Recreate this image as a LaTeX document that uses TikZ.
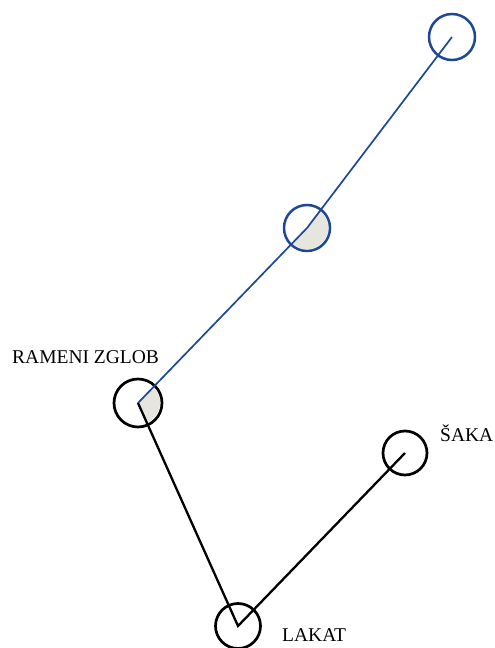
\documentclass[tikz,border=0pt]{standalone}
\usepackage{fontspec}
\setmainfont{Liberation Serif}
\definecolor{armblue}{RGB}{30,72,150}
\definecolor{jointgray}{RGB}{230,230,222}
\begin{document}
\begin{tikzpicture}[x=1pt,y=1pt,
  joint/.style={circle,draw=black,line width=2.7pt,minimum size=46pt,inner sep=0pt},
  bluejoint/.style={joint,draw=armblue,line width=2.5pt},
  jointname/.style={font=\fontsize{19.5}{22}\selectfont,anchor=base west,inner sep=0pt}]
\useasboundingbox (0,0) rectangle (495,648);
% Joints of the lowered arm (black)
\node[joint, minimum size=48pt] (rame) at (138,245) {};
\node[joint, minimum size=45pt] (lakat) at (238,22) {};
\node[joint, minimum size=44pt] (saka) at (405,195) {};
% Joints of the raised arm (blue)
\node[bluejoint] (lakatgore) at (307,420) {};
\node[bluejoint] (sakagore) at (452,611) {};
% Grey sectors between the segments
\fill[jointgray] (rame.center) -- ++(-65.85:22) arc (-65.85:46:22) -- cycle;
\fill[jointgray] (lakatgore.center) -- ++(226:21.2) arc (226:412.8:21.2) -- cycle;
% Arm segments
\draw[armblue, line width=1.7pt] (rame.center) -- (lakatgore.center) -- (sakagore.center);
\draw[line width=2.3pt] (rame.center) -- (lakat.center) -- (saka.center);
% Labels
\node[jointname] (rametext) at (12,284) {RAMENI ZGLOB};
\node[jointname] (lakattext) at (282,6.5) {LAKAT};
\node[jointname] (sakatext) at (440,206.5) {ŠAKA};
\end{tikzpicture}
\end{document}
